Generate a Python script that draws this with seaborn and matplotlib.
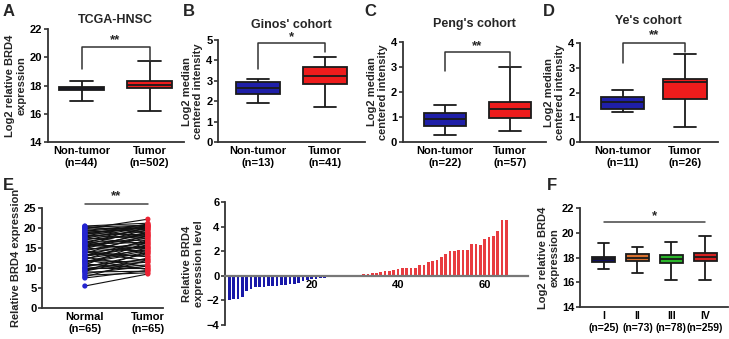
import numpy as np
import pandas as pd
import seaborn as sns
import matplotlib.pyplot as plt

# box stats: min, q1, median, q3, max
a_stats = {"Non-tumor\n(n=44)": [16.9, 17.65, 17.8, 17.9, 18.35],
           "Tumor\n(n=502)": [16.2, 17.8, 18.05, 18.35, 19.7]}
b_stats = {"Non-tumor\n(n=13)": [1.9, 2.35, 2.65, 2.95, 3.1],
           "Tumor\n(n=41)": [1.7, 2.85, 3.25, 3.7, 4.15]}
c_stats = {"Non-tumor\n(n=22)": [0.3, 0.63, 0.93, 1.15, 1.48],
           "Tumor\n(n=57)": [0.45, 0.95, 1.33, 1.6, 3.0]}
d_stats = {"Non-tumor\n(n=11)": [1.22, 1.32, 1.6, 1.8, 2.1],
           "Tumor\n(n=26)": [0.6, 1.75, 2.42, 2.55, 3.55]}
f_stats = {"I\n(n=25)": [17.04, 17.64, 17.85, 18.02, 19.15],
           "II\n(n=73)": [16.72, 17.72, 17.99, 18.26, 18.88],
           "III\n(n=78)": [16.15, 17.58, 17.88, 18.2, 19.24],
           "IV\n(n=259)": [16.2, 17.72, 18.04, 18.34, 19.7]}

# panel E paired samples
e_normal = [5.5, 7.5, 7.8, 8.2, 8.6, 9.0, 9.3, 9.6, 9.9, 10.2,
            10.5, 10.8, 11.0, 11.3, 11.6, 11.9, 12.1, 12.4, 12.7, 12.9,
            13.2, 13.4, 13.7, 13.9, 14.1, 14.3, 14.6, 14.8, 15.0, 15.2,
            15.4, 15.6, 15.8, 16.0, 16.2, 16.4, 16.6, 16.8, 17.0, 17.2,
            17.4, 17.6, 17.8, 18.0, 18.2, 18.4, 18.6, 18.8, 19.0, 19.2,
            19.4, 19.6, 19.8, 20.0, 20.2, 20.4, 20.5, 12.0, 14.0, 16.0,
            9.2, 11.5, 13.0, 18.5, 10.0]
e_tumor = [8.5, 9.4, 12.0, 8.8, 10.5, 9.2, 14.0, 10.8, 11.5, 13.6,
           12.2, 16.5, 9.8, 13.9, 15.0, 11.4, 17.2, 14.6, 10.3, 15.8,
           16.8, 13.0, 18.2, 15.5, 12.8, 17.6, 16.1, 19.0, 14.2, 17.9,
           18.5, 15.1, 19.6, 16.4, 20.2, 17.0, 18.8, 13.5, 19.9, 18.1,
           20.4, 16.0, 19.3, 20.6, 17.4, 21.0, 18.3, 20.1, 19.6, 20.5,
           20.8, 17.8, 22.2, 19.8, 20.7, 18.7, 21.2, 9.6, 11.8, 14.8,
           12.5, 14.4, 15.3, 20.3, 10.0]

# waterfall: sample index and level
w_blue_idx = list(range(1, 26))
w_blue = [-1.95, -1.9, -1.85, -1.7, -1.25, -1.05, -0.95, -0.9, -0.88, -0.85,
          -0.82, -0.8, -0.78, -0.75, -0.7, -0.65, -0.55, -0.45, -0.35, -0.3,
          -0.25, -0.2, -0.15, -0.1, -0.05]
w_red_idx = list(range(30, 66))
w_red = [0.1, 0.1, 0.12, 0.15, 0.2, 0.25, 0.3, 0.35, 0.4, 0.45,
         0.55, 0.6, 0.62, 0.62, 0.65, 0.85, 0.87, 1.15, 1.18, 1.25,
         1.55, 1.8, 2.0, 2.05, 2.1, 2.1, 2.12, 2.55, 2.55, 2.5,
         3.0, 3.15, 3.2, 3.65, 4.5, 4.5]

NAVY = "#12126a"
BLUE = "#1f1fa8"
RED = "#ee1c1c"
FS = 8

sns.set_style("ticks")
plt.rcParams["font.family"] = ["Liberation Sans", "DejaVu Sans"]
plt.rcParams["font.weight"] = "bold"
plt.rcParams["axes.labelweight"] = "bold"
plt.rcParams["axes.linewidth"] = 1.3
plt.rcParams["axes.edgecolor"] = "#333333"
plt.rcParams["xtick.color"] = "#333333"
plt.rcParams["ytick.color"] = "#333333"
plt.rcParams["xtick.labelcolor"] = "black"
plt.rcParams["ytick.labelcolor"] = "black"
plt.rcParams["font.size"] = FS

W, H = 729, 339
fig = plt.figure(figsize=(W / 100, H / 100), dpi=100)


def add_ax(left, top, right, bottom):
    return fig.add_axes([left / W, 1 - bottom / H, (right - left) / W, (bottom - top) / H])


def box_panel(ax, stats, colors, width):
    rows = []
    for g, s in stats.items():
        for v in s:
            rows.append({"group": g, "value": v})
    df = pd.DataFrame(rows)
    sns.boxplot(data=df, x="group", y="value", hue="group", palette=colors,
                whis=(0, 100), width=width, linecolor="#1a1a1a", linewidth=1.3,
                saturation=1, legend=False, ax=ax)
    ax.set_xlabel("")
    ax.tick_params(axis="x", length=0, labelsize=FS, pad=3)
    ax.tick_params(axis="y", length=3, width=1.2, labelsize=FS, pad=1)
    sns.despine(ax=ax)


def bracket(ax, x0, x1, y0, y1, ytop, text, ytext):
    ax.plot([x0, x0, x1, x1], [y0, ytop, ytop, y1], color="#333333", lw=1.1, clip_on=False)
    ax.text((x0 + x1) / 2, ytext, text, ha="center", va="center", fontsize=9.5, fontweight="bold")


# A
ax = add_ax(47.5, 29, 183.5, 142)
box_panel(ax, a_stats, [NAVY, RED], 0.65)
ax.set_xlim(-0.5, 1.5)
ax.set_ylim(14, 22)
ax.set_yticks([14, 16, 18, 20, 22])
ax.set_ylabel("Log2 relative BRD4\nexpression", fontsize=FS, labelpad=2)
ax.set_title("TCGA-HNSC", fontsize=9, fontweight="bold", pad=4)
bracket(ax, 0, 1, 19.2, 19.7, 20.76, "**", 21.2)

# B
ax = add_ax(218, 40, 365, 142)
box_panel(ax, b_stats, [BLUE, RED], 0.66)
ax.set_xlim(-0.6, 1.6)
ax.set_ylim(0, 5)
ax.set_yticks([0, 1, 2, 3, 4, 5])
ax.set_ylabel("Log2 median\ncentered intensity", fontsize=FS, labelpad=2)
ax.set_title("Ginos' cohort", fontsize=9, fontweight="bold", pad=9)
bracket(ax, 0, 1, 3.6, 4.4, 4.87, "*", 5.15)

# C
ax = add_ax(402.75, 42, 545.75, 142)
box_panel(ax, c_stats, [BLUE, RED], 0.66)
ax.set_xlim(-0.65, 1.55)
ax.set_ylim(0, 4)
ax.set_yticks([0, 1, 2, 3, 4])
ax.set_ylabel("Log2 median\ncentered intensity", fontsize=FS, labelpad=2)
ax.set_title("Peng's cohort", fontsize=9, fontweight="bold", pad=11)
bracket(ax, 0, 1, 2.83, 3.0, 3.6, "**", 3.85)

# D
ax = add_ax(580, 43, 717.5, 142)
box_panel(ax, d_stats, [BLUE, RED], 0.7)
ax.set_xlim(-0.68, 1.52)
ax.set_ylim(0, 4)
ax.set_yticks([0, 1, 2, 3, 4])
ax.set_ylabel("Log2 median\ncentered intensity", fontsize=FS, labelpad=2)
ax.set_title("Ye's cohort", fontsize=9, fontweight="bold", pad=14)
bracket(ax, 0, 1, 3.2, 3.64, 4.0, "**", 4.33)

# E paired plot
ax = add_ax(42, 208, 163, 308)
n = len(e_normal)
pairs = pd.DataFrame({
    "pair": list(range(n)) * 2,
    "x": [0] * n + [1] * n,
    "value": e_normal + e_tumor,
    "group": ["Normal"] * n + ["Tumor"] * n,
})
sns.lineplot(data=pairs, x="x", y="value", units="pair", estimator=None,
             color="#111111", lw=0.8, ax=ax)
sns.scatterplot(data=pairs, x="x", y="value", hue="group",
                palette={"Normal": "#2424d0", "Tumor": "#ee2233"},
                s=14, linewidth=0, legend=False, zorder=3, ax=ax)
ax.set_xlim(-0.68, 1.24)
ax.set_ylim(0, 25)
ax.set_yticks([0, 5, 10, 15, 20, 25])
ax.set_xticks([0, 1])
ax.set_xticklabels(["Normal\n(n=65)", "Tumor\n(n=65)"])
ax.set_xlabel("")
ax.set_ylabel("Relative BRD4 expression", fontsize=FS, labelpad=2)
ax.tick_params(axis="x", length=0, labelsize=FS, pad=3)
ax.tick_params(axis="y", length=3, width=1.2, labelsize=FS, pad=1)
sns.despine(ax=ax)
ax.plot([0, 1], [26, 26], color="#444444", lw=1.1, clip_on=False)
ax.text(0.5, 28, "**", ha="center", va="center", fontsize=9.5, fontweight="bold")

# waterfall
ax = add_ax(225, 202, 528, 325)
sns.barplot(x=w_blue_idx, y=w_blue, native_scale=True, color="#1818a8",
            width=0.62, saturation=1, linewidth=0, ax=ax)
sns.barplot(x=w_red_idx, y=w_red, native_scale=True, color="#e83c40",
            width=0.62, saturation=1, linewidth=0, ax=ax)
ax.set_xlim(0, 70)
ax.set_ylim(-4, 6)
ax.set_yticks([-4, -2, 0, 2, 4, 6])
ax.set_xticks([20, 40, 60])
ax.set_xticklabels(["20", "40", "60"])
ax.set_xlabel("")
ax.set_ylabel("Relative BRD4\nexpression level", fontsize=FS, labelpad=2)
ax.spines["bottom"].set_position(("data", 0))
ax.spines["bottom"].set_color("#777777")
ax.spines["bottom"].set_linewidth(1.6)
ax.tick_params(axis="x", length=0, labelsize=FS, pad=3)
ax.tick_params(axis="y", length=3, width=1.2, labelsize=FS, pad=1)
sns.despine(ax=ax)

# F
ax = add_ax(580, 208, 728, 307)
box_panel(ax, f_stats, ["#101060", "#d9712f", "#2bb52b", "#d42020"], 0.68)
ax.set_xlim(-0.7, 3.68)
ax.set_ylim(14, 22)
ax.set_yticks([14, 16, 18, 20, 22])
ax.set_ylabel("Log2 relative BRD4\nexpression", fontsize=FS, labelpad=2)
ax.tick_params(axis="x", labelsize=7.5)
ax.plot([0, 3], [20.86, 20.86], color="#444444", lw=1.1)
ax.text(1.5, 21.3, "*", ha="center", va="center", fontsize=9.5, fontweight="bold")

# panel letters
for letter, x, y in [("A", 3, 12), ("B", 183, 12), ("C", 364, 12), ("D", 543, 12),
                     ("E", 3, 185), ("F", 547, 185)]:
    fig.text(x / W, 1 - y / H, letter, fontsize=12, fontweight="bold", va="center", ha="left")

fig.savefig("out.png", dpi=100)
